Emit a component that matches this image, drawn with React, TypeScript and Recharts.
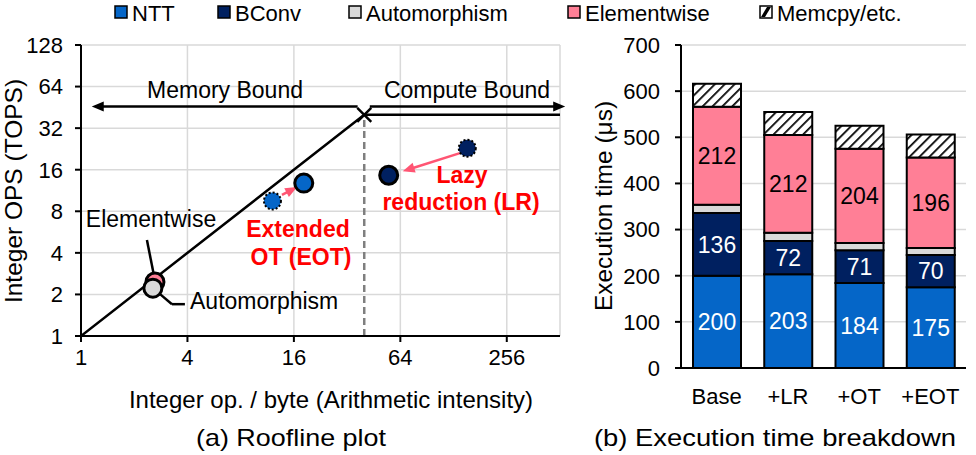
import {
  Bar,
  BarChart,
  CartesianGrid,
  LabelList,
  ReferenceLine,
  Scatter,
  ScatterChart,
  XAxis,
  YAxis,
} from 'recharts'

const FONT = '"Liberation Sans", Arial, Helvetica, sans-serif'

// (b) execution time breakdown (us)
const CONFIGS = ['Base', '+LR', '+OT', '+EOT']
const NTT = [200, 203, 184, 175]
const BCONV = [136, 72, 71, 70]
const AUTOMORPHISM = [18, 18, 16, 15]
const ELEMENTWISE = [212, 212, 204, 196]
const MEMCPY = [50, 50, 50, 50]
const TIME_TICKS = [0, 100, 200, 300, 400, 500, 600, 700]

// (a) roofline: op/byte vs TOPS
const INTENSITY_TICKS = [1, 4, 16, 64, 256]
const OPS_TICKS = [1, 2, 4, 8, 16, 32, 64, 128]
const RIDGE = 40
const ROOF = [{ x: 1, y: 1 }, { x: RIDGE, y: RIDGE }, { x: 512, y: RIDGE }]
const ELEMENTWISE_PT = [{ x: 2.62, y: 2.46 }]
const AUTOMORPHISM_PT = [{ x: 2.55, y: 2.22 }]
const EOT_BEFORE = [{ x: 12.1, y: 9.5 }]
const EOT_AFTER = [{ x: 18.2, y: 12.8 }]
const LR_BEFORE = [{ x: 153, y: 22.9 }]
const LR_AFTER = [{ x: 55, y: 14.6 }]

// annotation segments, in data coords
const MEMORY_ARROW = [{ x: 36.7, y: 46 }, { x: 1.15, y: 46 }]
const COMPUTE_ARROW = [{ x: 43, y: 46 }, { x: 548, y: 46 }]
const EOT_ARROW = [{ x: 13.7, y: 10.5 }, { x: 16.7, y: 12 }]
const LR_ARROW = [{ x: 139, y: 21.1 }, { x: 66, y: 15.6 }]
const ELEM_LEADER = [{ x: 2.36, y: 4.95 }, { x: 2.59, y: 2.72 }]
const AUTO_LEADER_A = [{ x: 2.8, y: 2.01 }, { x: 3.27, y: 1.7 }]
const AUTO_LEADER_B = [{ x: 3.27, y: 1.7 }, { x: 3.87, y: 1.7 }]
const RIDGE_DROP = [{ x: RIDGE, y: 1 }, { x: RIDGE, y: RIDGE }]

const C_NTT = '#0566c8'
const C_BCONV = '#002060'
const C_AUTO = '#d9d9d9'
const C_ELEM = '#ff7f96'
const C_ARROW = '#ff5573'
const GRID = '#d9d9d9'

const rows = CONFIGS.map((name, i) => ({
  name,
  ntt: NTT[i],
  bconv: BCONV[i],
  auto: AUTOMORPHISM[i],
  elem: ELEMENTWISE[i],
  memcpy: MEMCPY[i],
}))

const LEGEND = [
  { label: 'NTT', fill: C_NTT, x: 115 },
  { label: 'BConv', fill: C_BCONV, x: 218 },
  { label: 'Automorphism', fill: C_AUTO, x: 349 },
  { label: 'Elementwise', fill: C_ELEM, x: 568 },
  { label: 'Memcpy/etc.', fill: 'hatch', x: 760 },
]

function ArrowLine(props: any) {
  const { x1, y1, x2, y2, color, head } = props
  const dx = x2 - x1
  const dy = y2 - y1
  const len = Math.sqrt(dx * dx + dy * dy) || 1
  const ux = dx / len
  const uy = dy / len
  const L = 12
  const W = 5
  const bx = x2 - ux * L
  const by = y2 - uy * L
  return (
    <g>
      <line x1={x1} y1={y1} x2={head ? bx + ux * 2 : x2} y2={head ? by + uy * 2 : y2} stroke={color} strokeWidth={2.5} />
      {head && (
        <polygon
          points={`${x2},${y2} ${bx - uy * W},${by + ux * W} ${bx + uy * W},${by - ux * W}`}
          fill={color}
        />
      )}
    </g>
  )
}

const dot = (fill: string, dotted: boolean) => (p: any) => (
  <circle
    cx={p.cx}
    cy={p.cy}
    r={dotted ? 8.5 : 9}
    fill={fill}
    stroke="#000"
    strokeWidth={dotted ? 2 : 3}
    strokeDasharray={dotted ? '2 2' : undefined}
  />
)

const ridgeMark = (p: any) => (
  <g stroke="#000" strokeWidth={2.5}>
    <line x1={p.cx - 7} y1={p.cy - 7} x2={p.cx + 7} y2={p.cy + 7} />
    <line x1={p.cx - 7} y1={p.cy + 7} x2={p.cx + 7} y2={p.cy - 7} />
  </g>
)

function Roofline() {
  const seg = (points: any, color: string, head: boolean, key: string) => (
    <ReferenceLine
      key={key}
      segment={points}
      ifOverflow="visible"
      shape={(p: any) => <ArrowLine {...p} color={color} head={head} />}
    />
  )
  return (
    <ScatterChart width={580} height={455} margin={{ top: 45, right: 20, bottom: 89, left: 0 }}>
      <CartesianGrid stroke={GRID} strokeWidth={1.5} />
      <XAxis
        type="number"
        dataKey="x"
        scale="log"
        domain={[1, 512]}
        ticks={INTENSITY_TICKS}
        allowDataOverflow
        height={30}
        tickSize={6}
        tickMargin={7}
        stroke="#000"
        strokeWidth={2}
        tick={{ fontSize: 22, fill: '#000' }}
      />
      <YAxis
        type="number"
        dataKey="y"
        scale="log"
        domain={[1, 128]}
        ticks={OPS_TICKS}
        allowDataOverflow
        width={81}
        tickSize={6}
        tickMargin={12}
        stroke="#000"
        strokeWidth={2}
        tick={{ fontSize: 22, fill: '#000' }}
      />
      <ReferenceLine segment={RIDGE_DROP} stroke="#7f7f7f" strokeWidth={2.5} strokeDasharray="7 4" />
      {seg(ELEM_LEADER, '#000', false, 'el')}
      {seg(AUTO_LEADER_A, '#000', false, 'aa')}
      {seg(AUTO_LEADER_B, '#000', false, 'ab')}
      {seg(MEMORY_ARROW, '#000', true, 'mem')}
      {seg(COMPUTE_ARROW, '#000', true, 'cmp')}
      {seg(EOT_ARROW, C_ARROW, true, 'eot')}
      {seg(LR_ARROW, C_ARROW, true, 'lr')}
      <Scatter data={ROOF} line={{ stroke: '#000', strokeWidth: 2.5 }} shape={() => <g />} isAnimationActive={false} />
      <Scatter data={[ROOF[1]]} shape={ridgeMark} isAnimationActive={false} />
      <Scatter data={ELEMENTWISE_PT} shape={dot(C_ELEM, false)} isAnimationActive={false} />
      <Scatter data={AUTOMORPHISM_PT} shape={dot(C_AUTO, false)} isAnimationActive={false} />
      <Scatter data={EOT_BEFORE} shape={dot(C_NTT, true)} isAnimationActive={false} />
      <Scatter data={EOT_AFTER} shape={dot(C_NTT, false)} isAnimationActive={false} />
      <Scatter data={LR_BEFORE} shape={dot(C_BCONV, true)} isAnimationActive={false} />
      <Scatter data={LR_AFTER} shape={dot(C_BCONV, false)} isAnimationActive={false} />
    </ScatterChart>
  )
}

function Breakdown() {
  const barProps = { stackId: 't', stroke: '#000', strokeWidth: 2, isAnimationActive: false }
  const label = { fontSize: 23 }
  return (
    <BarChart width={396} height={455} data={rows} barSize={48} margin={{ top: 45, right: 10, bottom: 47, left: 0 }}>
      <defs>
        <pattern id="hatch" patternUnits="userSpaceOnUse" width={7} height={7} patternTransform="rotate(45)">
          <rect width={7} height={7} fill="#fff" />
          <line x1={0} y1={0} x2={0} y2={7} stroke="#000" strokeWidth={3.5} />
        </pattern>
      </defs>
      <CartesianGrid vertical={false} stroke={GRID} strokeWidth={1.5} />
      <XAxis
        dataKey="name"
        height={40}
        tickLine={false}
        tickSize={0}
        tickMargin={20}
        stroke="#000"
        strokeWidth={2}
        tick={{ fontSize: 22, fill: '#000' }}
      />
      <YAxis
        domain={[0, 700]}
        ticks={TIME_TICKS}
        width={101}
        tickSize={6}
        tickMargin={15}
        stroke="#000"
        strokeWidth={2}
        tick={{ fontSize: 22, fill: '#000' }}
      />
      <Bar dataKey="ntt" fill={C_NTT} {...barProps}>
        <LabelList dataKey="ntt" position="center" fill="#fff" style={label} />
      </Bar>
      <Bar dataKey="bconv" fill={C_BCONV} {...barProps}>
        <LabelList dataKey="bconv" position="center" fill="#fff" style={label} />
      </Bar>
      <Bar dataKey="auto" fill={C_AUTO} {...barProps} />
      <Bar dataKey="elem" fill={C_ELEM} {...barProps}>
        <LabelList dataKey="elem" position="center" fill="#000" style={label} />
      </Bar>
      <Bar dataKey="memcpy" fill="url(#hatch)" {...barProps} />
    </BarChart>
  )
}

export default function App() {
  return (
    <div
      style={{
        position: 'absolute',
        left: 0,
        top: 0,
        width: 976,
        height: 455,
        background: '#fff',
        fontFamily: FONT,
        overflow: 'hidden',
      }}
    >
      <div style={{ position: 'absolute', left: 0, top: 0 }}>
        <Roofline />
      </div>
      <div style={{ position: 'absolute', left: 580, top: 0 }}>
        <Breakdown />
      </div>
      <svg
        width={976}
        height={455}
        style={{ position: 'absolute', left: 0, top: 0, pointerEvents: 'none', fontFamily: FONT }}
      >
        {LEGEND.map((item) => (
          <g key={item.label}>
            <rect x={item.x} y={6} width={12} height={12} fill={item.fill === 'hatch' ? '#fff' : item.fill} stroke="#000" strokeWidth={1.5} />
            {item.fill === 'hatch' && (
              <polygon points={`${item.x + 1},17 ${item.x + 5},17 ${item.x + 11},7 ${item.x + 7},7`} fill="#000" />
            )}
            <text x={item.x + 17} y={20.5} fontSize={22}>{item.label}</text>
          </g>
        ))}

        <text transform="translate(22,191) rotate(-90)" textAnchor="middle" fontSize={24.5}>Integer OPS (TOPS)</text>
        <text x={331} y={408} textAnchor="middle" fontSize={24}>Integer op. / byte (Arithmetic intensity)</text>
        <text x={291} y={446} textAnchor="middle" fontSize={24} textLength={190} lengthAdjust="spacingAndGlyphs">(a) Roofline plot</text>

        <text transform="translate(612,206) rotate(-90)" textAnchor="middle" fontSize={24.5}>Execution time (μs)</text>
        <text x={775} y={446} textAnchor="middle" fontSize={24} textLength={362} lengthAdjust="spacingAndGlyphs">(b) Execution time breakdown</text>

        <text x={225} y={98} textAnchor="middle" fontSize={23}>Memory Bound</text>
        <text x={467} y={98} textAnchor="middle" fontSize={23}>Compute Bound</text>
        <text x={151} y={227} textAnchor="middle" fontSize={23}>Elementwise</text>
        <text x={190} y={309} fontSize={23}>Automorphism</text>

        <g fill="#ff0000" fontWeight="bold" fontSize={23} textAnchor="middle">
          <text x={298} y={237}>Extended</text>
          <text x={301} y={265}>OT (EOT)</text>
          <text x={462} y={183}>Lazy</text>
          <text x={461} y={210}>reduction (LR)</text>
        </g>
      </svg>
    </div>
  )
}
